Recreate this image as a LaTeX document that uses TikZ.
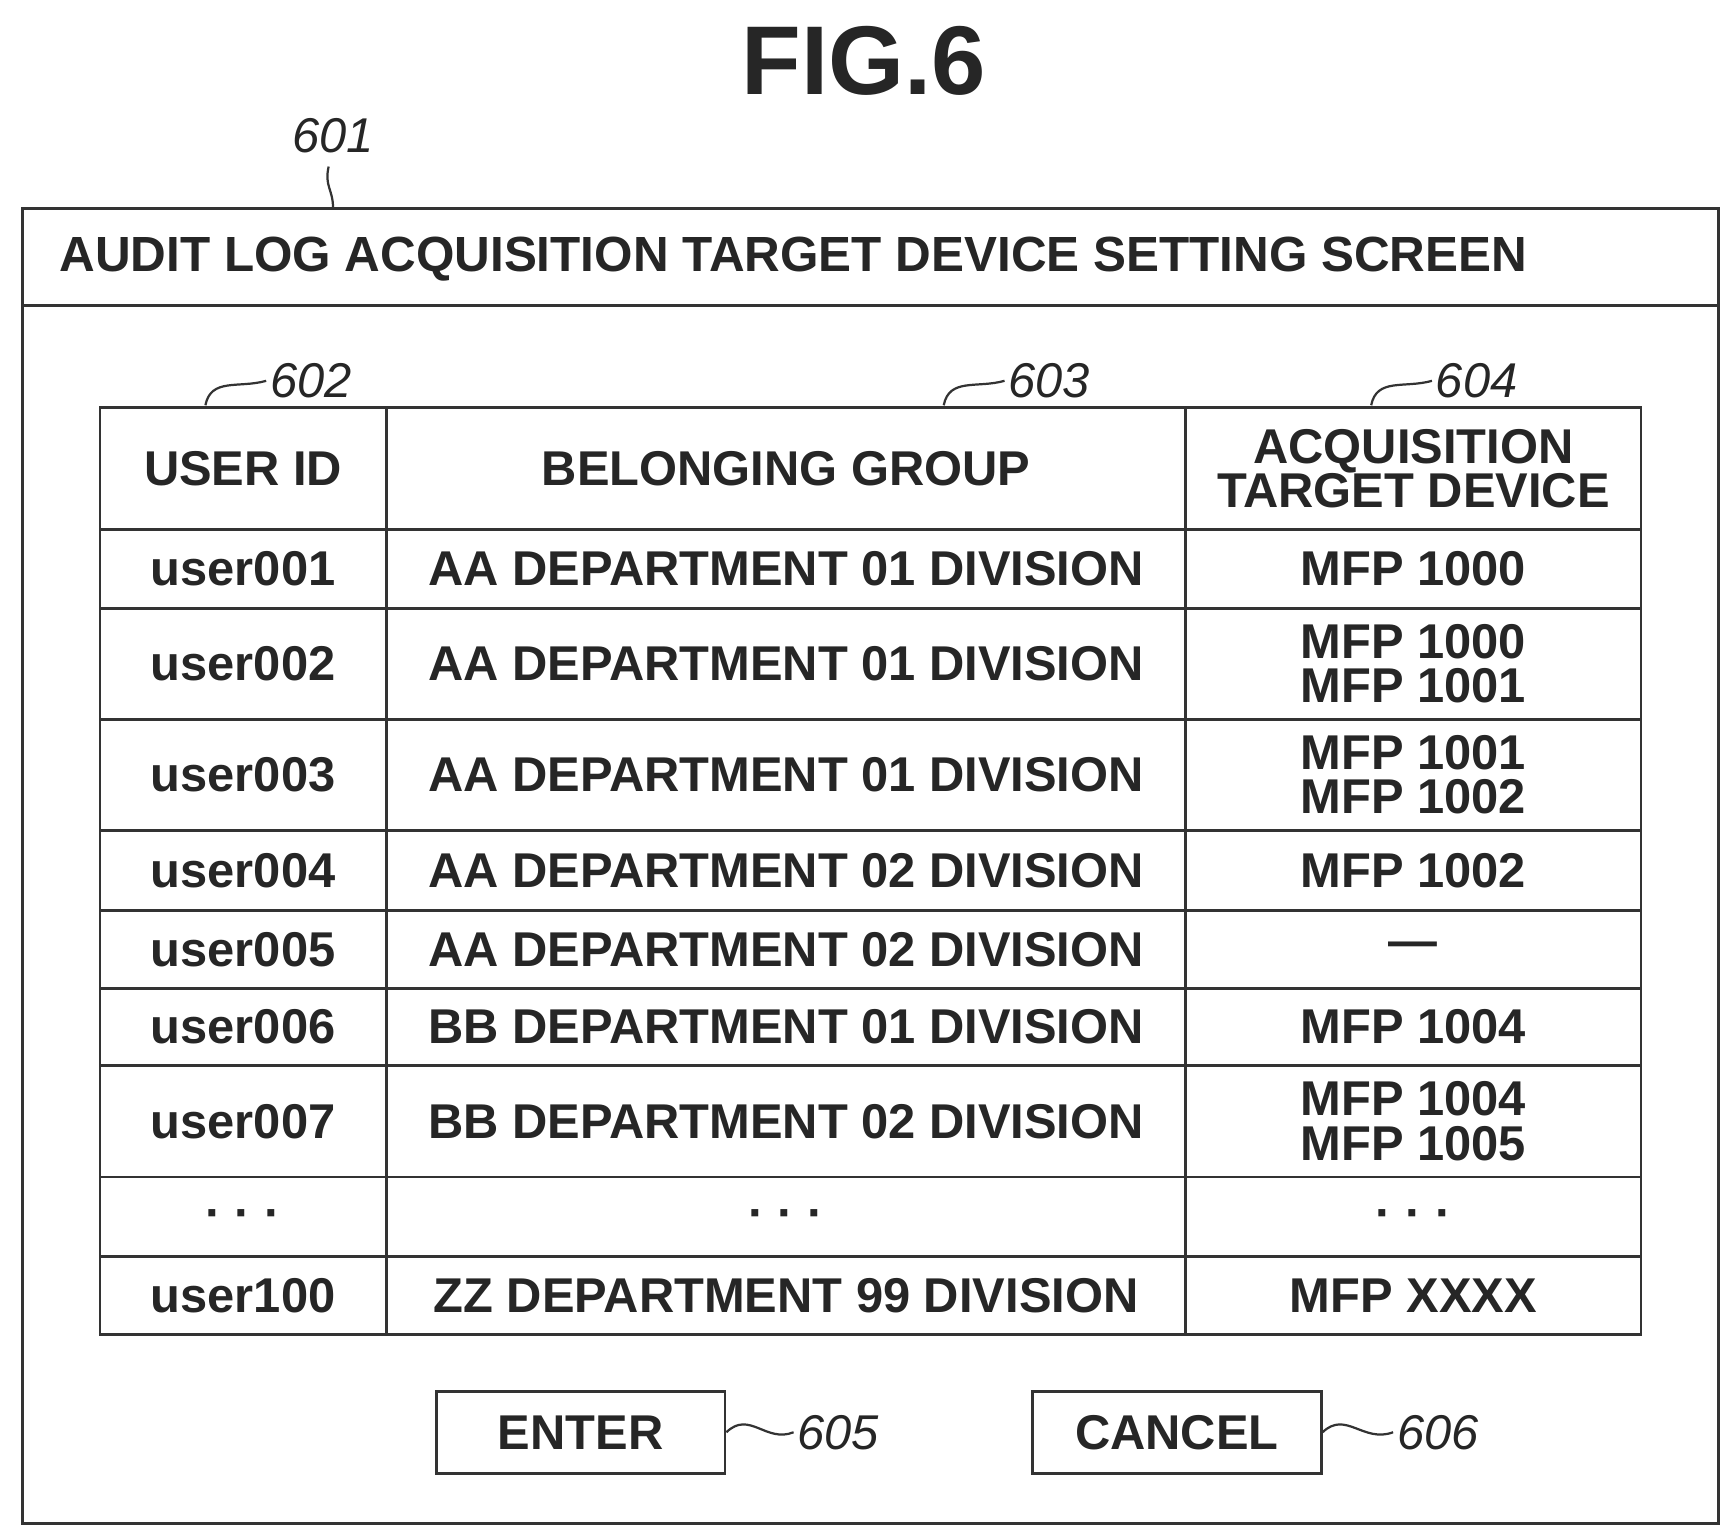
\documentclass[tikz,border=0pt]{standalone}
\usepackage{fontspec}
\setmainfont{Liberation Sans}
\begin{document}
\begin{tikzpicture}[x=1pt,y=-1pt,
  line/.style={line width=2.5pt,black!80},
  cell/.style={font=\fontsize{44}{40}\selectfont\bfseries,align=center,text=black!85},
  ref/.style={font=\fontsize{44}{44}\selectfont\itshape,text=black!85},
  lead/.style={line width=2pt,black!80}]
\useasboundingbox (0,0) rectangle (1560,1385);
\node[font=\fontsize{88}{88}\selectfont\bfseries,text=black!85] (fig) at (778,55) {FIG.6};
\draw[line] (20,188) rectangle (1548,1372);
\draw[line] (20,275) -- (1548,275);
\node[anchor=west,font=\fontsize{44.5}{44}\selectfont\bfseries,text=black!85] (hdr) at (50,233) {AUDIT LOG ACQUISITION TARGET DEVICE SETTING SCREEN};
\node[ref] (r601) at (300,122) {601};
\coordinate (c601) at (300,188);
\draw[lead] (c601) .. controls (300,170) and (292,168) .. (296,150);
% table
\draw[line] (90,367) rectangle (1478,1202);
\foreach \x in {348,1068} \draw[line] (\x,367) -- (\x,1202);
\foreach \y in {477,548,648,748,820,890,960,1060,1132} \draw[line] (90,\y) -- (1478,\y);
\node[cell] (h1) at (219,422) {USER ID};
\node[cell] (h2) at (708,422) {BELONGING GROUP};
\node[cell] (h3) at (1273,422) {ACQUISITION\\TARGET DEVICE};
\foreach \y/\u/\g/\d [count=\i] in {
 512/user001/AA DEPARTMENT 01 DIVISION/MFP 1000,
 598/user002/AA DEPARTMENT 01 DIVISION/MFP 1000\\MFP 1001,
 698/user003/AA DEPARTMENT 01 DIVISION/MFP 1001\\MFP 1002,
 784/user004/AA DEPARTMENT 02 DIVISION/MFP 1002,
 855/user005/AA DEPARTMENT 02 DIVISION/---,
 925/user006/BB DEPARTMENT 01 DIVISION/MFP 1004,
 1010/user007/BB DEPARTMENT 02 DIVISION/MFP 1004\\MFP 1005,
 1098/{· · ·}/{· · ·}/{· · ·},
 1167/user100/ZZ DEPARTMENT 99 DIVISION/MFP XXXX}{
 \node[cell] (u\i) at (219,\y) {\u};
 \node[cell] (g\i) at (708,\y) {\g};
 \node[cell] (d\i) at (1273,\y) {\d};
}
\node[ref] (r602) at (280,343) {602};
\node[ref] (r603) at (945,343) {603};
\node[ref] (r604) at (1330,343) {604};
\coordinate (c602) at (185,365);
\coordinate (c603) at (850,365);
\coordinate (c604) at (1235,365);
\draw[lead] (c602) .. controls (190,340) and (215,350) .. (r602.west);
\draw[lead] (c603) .. controls (855,340) and (880,350) .. (r603.west);
\draw[lead] (c604) .. controls (1240,340) and (1265,350) .. (r604.west);
% buttons
\node[draw,line,minimum width=260pt,minimum height=74pt,cell] (enter) at (523,1290) {ENTER};
\node[draw,line,minimum width=260pt,minimum height=74pt,cell] (cancel) at (1060,1290) {CANCEL};
\node[ref] (r605) at (755,1290) {605};
\node[ref] (r606) at (1295,1290) {606};
\draw[lead] (enter.east) .. controls (675,1270) and (690,1300) .. (r605.west);
\draw[lead] (cancel.east) .. controls (1212,1270) and (1228,1300) .. (r606.west);
\end{tikzpicture}
\end{document}
